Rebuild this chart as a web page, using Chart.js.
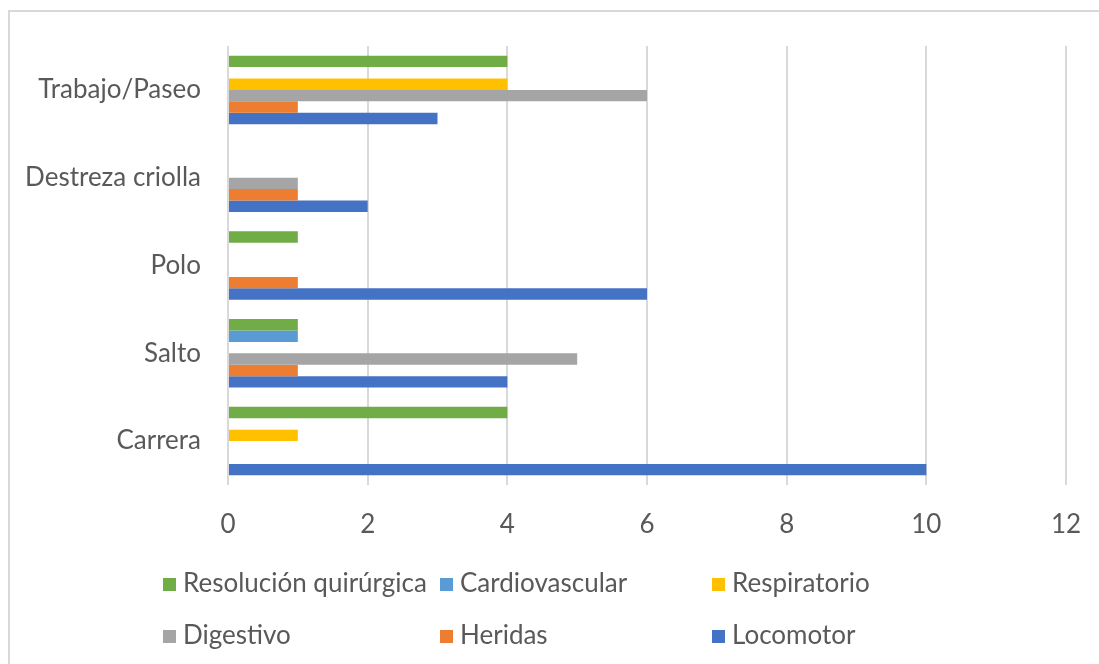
<!DOCTYPE html>
<html>
<head>
<meta charset="utf-8">
<script src="https://cdn.jsdelivr.net/npm/chart.js@4.4.1/dist/chart.umd.min.js"></script>
<style>
    html, body { margin: 0; padding: 0; background: #fff; overflow: hidden; }
    #wrap { position: relative; width: 1099px; height: 664px; }
    #frame { position: absolute; left: 8px; top: 10px; width: 1200px; height: 800px; border: 2px solid #d9d9d9; box-sizing: border-box; }
    #chart { position: absolute; left: 0; top: 0; }
    .legend-item { position: absolute; font-family: Lato, sans-serif; font-size: 26px; color: #595959; white-space: nowrap; line-height: 30px; }
    .legend-item span.box { display: inline-block; width: 13px; height: 13px; margin-right: 7px; vertical-align: 1px; }
</style>
</head>
<body>
<div id="wrap">
    <div id="frame"></div>
    <canvas id="chart" width="1099" height="664"></canvas>
    <div id="legend"></div>
</div>
<script>
// Categories (top to bottom)
const categories = ['Trabajo/Paseo', 'Destreza criolla', 'Polo', 'Salto', 'Carrera'];

// Series values, one per category
const resolucionQuirurgica = [4, null, 1, 1, 4];
const cardiovascular = [null, null, null, 1, null];
const respiratorio = [4, null, null, null, 1];
const digestivo = [6, 1, null, 5, null];
const heridas = [1, 1, 1, 1, null];
const locomotor = [3, 2, 6, 4, 10];

const xTicks = [0, 2, 4, 6, 8, 10, 12];

const series = [
    { label: 'Resolución quirúrgica', data: resolucionQuirurgica, color: '#70AD47' },
    { label: 'Cardiovascular', data: cardiovascular, color: '#5B9BD5' },
    { label: 'Respiratorio', data: respiratorio, color: '#FFC000' },
    { label: 'Digestivo', data: digestivo, color: '#A5A5A5' },
    { label: 'Heridas', data: heridas, color: '#ED7D31' },
    { label: 'Locomotor', data: locomotor, color: '#4472C4' }
];

Chart.defaults.font.family = 'Lato, sans-serif';
Chart.defaults.font.size = 26;
Chart.defaults.color = '#595959';

const ctx = document.getElementById('chart').getContext('2d');
const chart = new Chart(ctx, {
    type: 'bar',
    data: {
        labels: categories,
        datasets: series.map(s => ({
            label: s.label,
            data: s.data,
            backgroundColor: s.color,
            borderWidth: 0,
            categoryPercentage: 0.78,
            barPercentage: 1
        }))
    },
    options: {
        indexAxis: 'y',
        responsive: false,
        animation: false,
        layout: { padding: { top: 46, right: 33, bottom: 119, left: 0 } },
        plugins: {
            legend: { display: false },
            tooltip: { enabled: false }
        },
        scales: {
            x: {
                min: 0,
                max: 12,
                afterBuildTicks: scale => { scale.ticks = xTicks.map(v => ({ value: v })); },
                afterFit: scale => {
                    scale.height = 60;
                    scale.paddingRight = 0;
                    scale.paddingLeft = 0;
                },
                grid: { color: '#d9d9d9', lineWidth: 2, drawTicks: false },
                border: { display: false },
                ticks: { padding: 24 }
            },
            y: {
                afterFit: scale => { scale.width = 228; },
                grid: { display: false, drawTicks: false },
                border: { display: false },
                ticks: { padding: 27 }
            }
        }
    }
});

// Legend laid out in three columns, two rows
const legendCols = [163, 440, 712];
const legendRows = [582, 634];
const legend = document.getElementById('legend');
series.forEach((s, i) => {
    const item = document.createElement('div');
    item.className = 'legend-item';
    item.style.left = legendCols[i % 3] + 'px';
    item.style.top = (legendRows[Math.floor(i / 3)] - 15) + 'px';
    item.innerHTML = `<span class="box" style="background:${s.color}"></span>${s.label}`;
    legend.appendChild(item);
});
</script>
</body>
</html>
